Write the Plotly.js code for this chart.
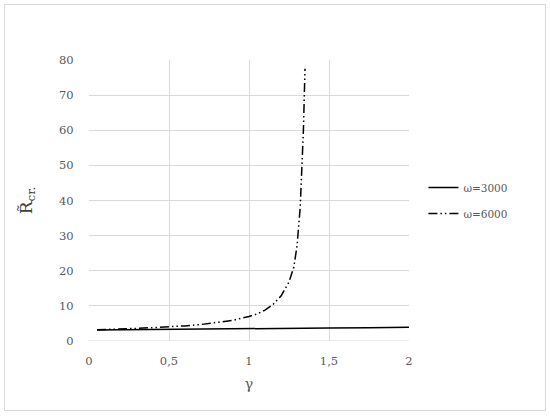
<!DOCTYPE html>
<html>
<head>
<meta charset="utf-8">
<script src="https://cdn.plot.ly/plotly-3.0.1.min.js"></script>
<style>
body{margin:0;padding:0;background:#fff;}
#wrap{position:relative;width:550px;height:417px;}
#chart{width:550px;height:417px;}
#frame{position:absolute;left:4px;top:4px;width:540px;height:405px;border:1px solid #d9d9d9;pointer-events:none;}
</style>
</head>
<body>
<div id="wrap"><div id="chart"></div><div id="frame"></div></div>
<script>
var gamma3000 = [0.05, 0.25, 0.5, 0.75, 1.0, 1.25, 1.5, 1.75, 2.0];
var r3000 = [3.15, 3.2, 3.3, 3.4, 3.5, 3.6, 3.7, 3.8, 3.95];
var gamma6000 = [0.05, 0.1, 0.2, 0.3, 0.4, 0.5, 0.6, 0.7, 0.8, 0.9, 1.0, 1.05, 1.1, 1.15, 1.2, 1.25, 1.28, 1.3, 1.32, 1.33, 1.34, 1.35];
var r6000 = [3.2, 3.25, 3.4, 3.6, 3.8, 4.0, 4.3, 4.7, 5.2, 5.9, 7.0, 7.7, 8.8, 10.4, 12.8, 16.8, 21, 27, 38, 47, 60, 77.5];
var xTicks = [0, 0.5, 1, 1.5, 2];
var xTickLabels = ["0", "0,5", "1", "1,5", "2"];
var yTicks = [0, 10, 20, 30, 40, 50, 60, 70, 80];

var font = "DejaVu Serif, serif";
var traces = [
  {x: gamma3000, y: r3000, mode: 'lines', name: 'ω=3000', legendgroup: 'a',
   line: {color: '#000', width: 1.5}},
  {x: gamma6000, y: r6000, mode: 'lines', name: 'ω=6000', legendgroup: 'b',
   line: {color: '#000', width: 1.5, dash: '9px,3px,1.5px,3px,1.5px,3px'}}
];
var layout = {
  width: 550, height: 417,
  margin: {l: 89, r: 141, t: 60, b: 76},
  paper_bgcolor: '#fff', plot_bgcolor: '#fff',
  font: {family: font, color: '#595959', size: 11},
  separators: ', ',
  showlegend: true,
  legend: {x: 1.045, y: 0.5, xanchor: 'left', yanchor: 'middle',
           font: {family: font, size: 10.5, color: '#595959'}, tracegroupgap: 7},
  xaxis: {range: [0, 2], tickvals: xTicks, ticktext: xTickLabels,
          showgrid: true, gridcolor: '#d9d9d9', gridwidth: 1,
          zeroline: false, showline: false, ticks: 'outside', ticklen: 9, tickcolor: 'rgba(0,0,0,0)',
          tickfont: {family: font, size: 11.5, color: '#595959'},
          title: {text: 'γ', font: {family: font, size: 14, color: '#595959'}, standoff: 12}},
  yaxis: {range: [0, 80], tickvals: yTicks,
          showgrid: true, gridcolor: '#d9d9d9', gridwidth: 1,
          zeroline: false, showline: false, ticks: 'outside', ticklen: 12, tickcolor: 'rgba(0,0,0,0)',
          tickfont: {family: font, size: 11.5, color: '#595959'},
          title: {text: 'R̃<sub>cr.</sub>', font: {family: font, size: 17, color: '#404040'}, standoff: 22}},
  shapes: [{type: 'line', xref: 'paper', yref: 'y', x0: 0, x1: 1, y0: 0, y1: 0,
            line: {color: '#d9d9d9', width: 1}}]
};
Plotly.newPlot('chart', traces, layout, {displayModeBar: false, staticPlot: true});
</script>
</body>
</html>
